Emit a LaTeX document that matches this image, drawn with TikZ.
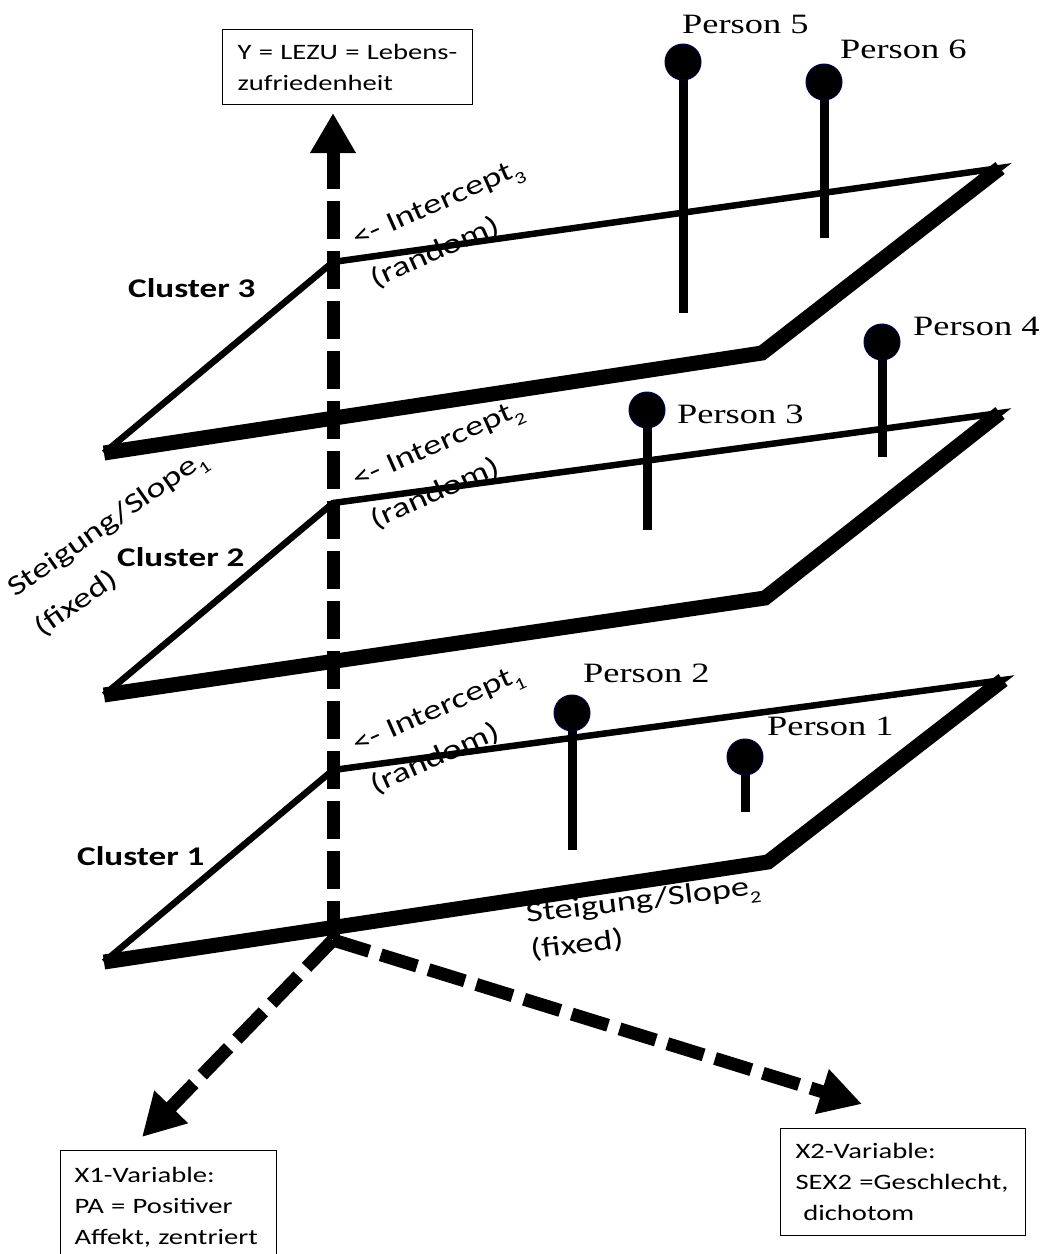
\documentclass[tikz,border=0pt]{standalone}
\usepackage{fontspec}
\setmainfont{Carlito}[FakeStretch=1.3]
\newfontfamily\personfont{Liberation Serif}[FakeStretch=1.3]
\usetikzlibrary{arrows.meta,calc}
\newcommand\subs[1]{\raisebox{-0.28em}{\fontsize{17}{17}\selectfont #1}}
\newcommand\twolines[1]{\begin{tabular}[t]{@{}l@{}}#1\end{tabular}}
\begin{document}
\begin{tikzpicture}[x=1pt,y=-1pt,
  thinedge/.style={line width=6.5pt, line join=miter},
  thickedge/.style={line width=15pt, line join=miter},
  axis/.style={line width=13pt, dash pattern=on 38pt off 12pt},
  pin/.style={circle, fill=black, draw=black!70!blue, line width=1pt, minimum size=36pt, inner sep=0pt},
  stick/.style={line width=9pt},
  plabel/.style={font=\personfont\fontsize{28}{30}\selectfont, anchor=base west, inner sep=0pt},
  clabel/.style={font=\bfseries\fontsize{27}{30}\selectfont, anchor=base west, inner sep=0pt},
  rlabel/.style={font=\fontsize{28}{44}\selectfont, anchor=base west, inner sep=0pt},
  varbox/.style={draw, line width=1.2pt, font=\fontsize{22}{31}\selectfont, align=left, inner xsep=15pt, inner ysep=0pt, anchor=north west},
  tip/.style={-{Triangle[length=42pt,width=44pt]}}
]
\useasboundingbox (0,0) rectangle (1043,1254);
\fill[white] (0,0) rectangle (1043,1254);

% plane corners
\coordinate (bl3) at (333,262); \coordinate (l3) at (104,453); \coordinate (b3) at (762,353); \coordinate (r3) at (1000,168);
\coordinate (bl2) at (333,503); \coordinate (l2) at (104,695); \coordinate (b2) at (765,598); \coordinate (r2) at (1000,413);
\coordinate (bl1) at (333,770); \coordinate (l1) at (104,962); \coordinate (b1) at (768,862); \coordinate (r1) at (1003,680);

% rotated labels (under lines)
\node[rlabel, rotate=24] (ic3) at ($(bl3)+(24,-14)$) {\twolines{<- Intercept\subs{3}\\(random)}};
\node[rlabel, rotate=24] (ic2) at ($(bl2)+(24,-14)$) {\twolines{<- Intercept\subs{2}\\(random)}};
\node[rlabel, rotate=24] (ic1) at ($(bl1)+(24,-16)$) {\twolines{<- Intercept\subs{1}\\(random)}};
\node[rlabel, rotate=35, font=\fontsize{28}{48}\selectfont] (sl1) at (15,598) {\twolines{Steigung/Slope\subs{1}\\(fixed)}};
\node[rlabel, rotate=7, font=\fontsize{28}{36}\selectfont] (sl2) at (527,923) {\twolines{Steigung/Slope\subs{2}\\(fixed)}};

% planes
\foreach \i in {1,2,3}{
  \draw[thinedge] (b\i) -- (r\i) -- (bl\i) -- (l\i);
  \draw[thickedge] (l\i) -- (b\i) -- (r\i);
}

% axes
\coordinate (O) at (333,940);
\coordinate (ytip) at (333,113);
\coordinate (x1tip) at (142,1137);
\coordinate (x2tip) at (862,1104);
\draw[axis, {Triangle[length=40pt,width=43pt]}-] (ytip) -- (O);
\draw[axis, tip] (O) -- (x1tip);
\draw[axis, tip] (O) -- (x2tip);

% cluster labels
\node[clabel] (c3) at (128,297) {Cluster 3};
\node[clabel] (c2) at (117,566) {Cluster 2};
\node[clabel] (c1) at (77,865) {Cluster 1};

% persons
\foreach \n/\x/\y/\b/\lx/\ly in {5/683/62/313/682/33, 6/824/82/238/840/58, 4/882/342/457/913/335, 3/647/410/530/677/423, 2/572/713/850/583/682, 1/745/757/812/767/735}{
  \coordinate (pb\n) at (\x,\b);
  \draw[stick] (\x,\y) -- (pb\n);
  \node[pin] (p\n) at (\x,\y) {};
  \node[plabel] (pl\n) at (\lx,\ly) {Person \n};
}

% variable boxes
\node[varbox, minimum width=250pt, minimum height=75pt, text width=220pt] (ybox) at (222,29) {Y = LEZU = Lebens-\\zufriedenheit};
\node[varbox, inner xsep=14pt, minimum width=216pt, minimum height=114pt, text width=188pt] (x1box) at (60,1150) {X1-Variable:\\PA = Positiver\\Affekt, zentriert};
\node[varbox, minimum width=245pt, minimum height=107pt, text width=215pt] (x2box) at (780,1128) {X2-Variable:\\SEX2 =Geschlecht,\\\hspace*{0.35em}dichotom};
\end{tikzpicture}
\end{document}
